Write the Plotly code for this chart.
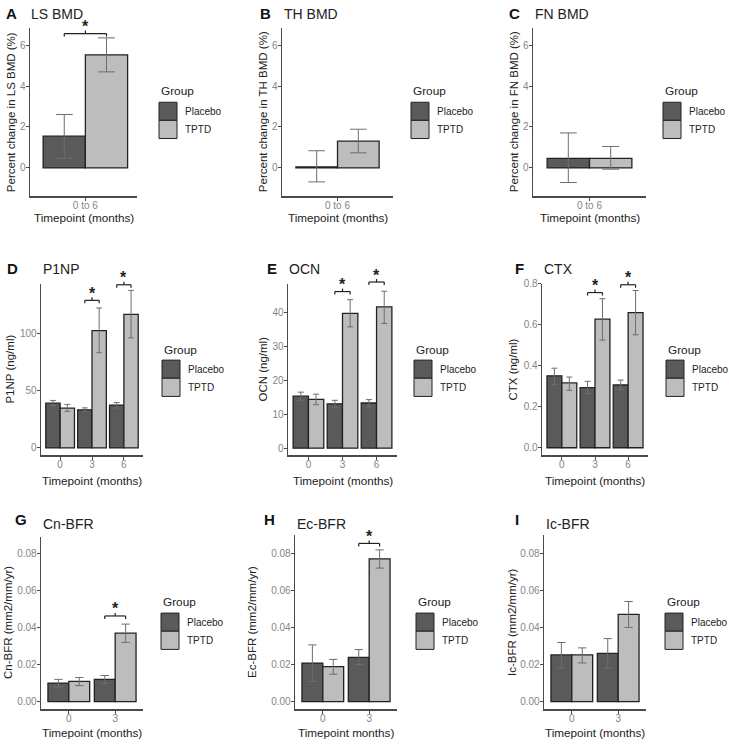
import plotly.graph_objects as go

W, H = 729, 745

# ---------------- data ----------------
groups = ["Placebo", "TPTD"]
bmd_timepoints = ["0 to 6"]
bto_timepoints = ["0", "3", "6"]
bfr_timepoints = ["0", "3"]

# A  LS BMD (% change)
ls_placebo = [1.55];  ls_placebo_lo = [0.47];  ls_placebo_hi = [2.61]
ls_tptd = [5.52];     ls_tptd_lo = [4.69];     ls_tptd_hi = [6.35]
ls_sig_idx = [0];     ls_sig_y = [6.56]
# B  TH BMD
th_placebo = [0.05];  th_placebo_lo = [-0.68]; th_placebo_hi = [0.84]
th_tptd = [1.31];     th_tptd_lo = [0.74];     th_tptd_hi = [1.89]
th_sig_idx = [];      th_sig_y = []
# C  FN BMD
fn_placebo = [0.47];  fn_placebo_lo = [-0.71]; fn_placebo_hi = [1.71]
fn_tptd = [0.47];     fn_tptd_lo = [-0.06];    fn_tptd_hi = [1.05]
fn_sig_idx = [];      fn_sig_y = []
# D  P1NP (ng/ml)
p1np_placebo = [39.1, 33.3, 37.4]; p1np_placebo_lo = [37.0, 31.9, 34.8]; p1np_placebo_hi = [41.5, 35.0, 39.7]
p1np_tptd = [34.8, 102.6, 116.8];  p1np_tptd_lo = [32.0, 83.2, 96.2];    p1np_tptd_hi = [38.0, 122.3, 137.7]
p1np_sig_idx = [1, 2];             p1np_sig_y = [129.0, 142.6]
# E  OCN (ng/ml)
ocn_placebo = [15.3, 13.05, 13.3]; ocn_placebo_lo = [14.1, 11.9, 12.2]; ocn_placebo_hi = [16.5, 14.1, 14.3]
ocn_tptd = [14.4, 39.7, 41.6];     ocn_tptd_lo = [12.8, 35.7, 36.7];    ocn_tptd_hi = [15.9, 43.7, 46.2]
ocn_sig_idx = [1, 2];              ocn_sig_y = [46.1, 48.9]
# F  CTX (ng/ml)
ctx_placebo = [0.351, 0.293, 0.306]; ctx_placebo_lo = [0.308, 0.264, 0.284]; ctx_placebo_hi = [0.388, 0.324, 0.330]
ctx_tptd = [0.316, 0.627, 0.659];    ctx_tptd_lo = [0.280, 0.525, 0.551];    ctx_tptd_hi = [0.345, 0.727, 0.767]
ctx_sig_idx = [1, 2];                ctx_sig_y = [0.757, 0.795]
# G  Cn-BFR
cn_placebo = [0.0100, 0.0120]; cn_placebo_lo = [0.0078, 0.0098]; cn_placebo_hi = [0.0120, 0.0141]
cn_tptd = [0.0109, 0.0370];    cn_tptd_lo = [0.0086, 0.0320];    cn_tptd_hi = [0.0130, 0.0419]
cn_sig_idx = [1];              cn_sig_y = [0.0463]
# H  Ec-BFR
ec_placebo = [0.0208, 0.0239]; ec_placebo_lo = [0.0109, 0.0200]; ec_placebo_hi = [0.0306, 0.0281]
ec_tptd = [0.0189, 0.0770];    ec_tptd_lo = [0.0148, 0.0720];    ec_tptd_hi = [0.0228, 0.0818]
ec_sig_idx = [1];              ec_sig_y = [0.0853]
# I  Ic-BFR
ic_placebo = [0.0252, 0.0260]; ic_placebo_lo = [0.0180, 0.0180]; ic_placebo_hi = [0.0319, 0.0340]
ic_tptd = [0.0252, 0.0471];    ic_tptd_lo = [0.0209, 0.0400];    ic_tptd_hi = [0.0290, 0.0540]
ic_sig_idx = [];               ic_sig_y = []

# ---------------- styling / layout ----------------
FONT = "Liberation Sans, Arial, sans-serif"
C_PLACEBO = "#5a5a5a"
C_TPTD = "#bdbdbd"
OUTLINE = "#222222"
ERRC = "#6e6e6e"
AXC = "#4a4a4a"
TICKC = "#858585"
TXT = "#222222"

panels = [
    dict(letter="A", title="LS BMD", ytitle="Percent change in LS BMD (%)", xtitle="Timepoint (months)",
         cats=bmd_timepoints, pl=(ls_placebo, ls_placebo_lo, ls_placebo_hi), tp=(ls_tptd, ls_tptd_lo, ls_tptd_hi),
         sig=(ls_sig_idx, ls_sig_y), box=(30, 137, 22, 192), yr=[-1.39, 6.84], xr=[-0.59, 0.55], dtick=2, fmt="",
         lx=4, ly=8, tx=29, ty=8, ytx=11, leg=(159, 86, 97), xty=213),
    dict(letter="B", title="TH BMD", ytitle="Percent change in TH BMD (%)", xtitle="Timepoint (months)",
         cats=bmd_timepoints, pl=(th_placebo, th_placebo_lo, th_placebo_hi), tp=(th_tptd, th_tptd_lo, th_tptd_hi),
         sig=(th_sig_idx, th_sig_y), box=(282, 393, 22, 192), yr=[-1.39, 6.84], dtick=2, fmt="",
         lx=258, ly=8, tx=282, ty=8, ytx=263, leg=(411, 86, 97), xty=213),
    dict(letter="C", title="FN BMD", ytitle="Percent change in FN BMD (%)", xtitle="Timepoint (months)",
         cats=bmd_timepoints, pl=(fn_placebo, fn_placebo_lo, fn_placebo_hi), tp=(fn_tptd, fn_tptd_lo, fn_tptd_hi),
         sig=(fn_sig_idx, fn_sig_y), box=(533, 646, 22, 192), yr=[-1.39, 6.84], dtick=2, fmt="",
         lx=507, ly=8, tx=533, ty=8, ytx=514, leg=(663, 86, 97), xty=213),
    dict(letter="D", title="P1NP", ytitle="P1NP (ng/ml)", xtitle="Timepoint (months)",
         cats=bto_timepoints, pl=(p1np_placebo, p1np_placebo_lo, p1np_placebo_hi), tp=(p1np_tptd, p1np_tptd_lo, p1np_tptd_hi),
         sig=(p1np_sig_idx, p1np_sig_y), box=(41, 143, 280, 453), yr=[-6.5, 143.5], dtick=50, fmt="",
         lx=5, ly=265, tx=41, ty=265, ytx=10, leg=(162, 347, 357), xty=478),
    dict(letter="E", title="OCN", ytitle="OCN (ng/ml)", xtitle="Timepoint (months)",
         cats=bto_timepoints, pl=(ocn_placebo, ocn_placebo_lo, ocn_placebo_hi), tp=(ocn_tptd, ocn_tptd_lo, ocn_tptd_hi),
         sig=(ocn_sig_idx, ocn_sig_y), box=(288, 397, 280, 453), yr=[-2.1, 48.4], dtick=10, fmt="",
         lx=265, ly=265, tx=287, ty=265, ytx=263, leg=(414, 347, 357), xty=478),
    dict(letter="F", title="CTX", ytitle="CTX (ng/ml)", xtitle="Timepoint (months)",
         cats=bto_timepoints, pl=(ctx_placebo, ctx_placebo_lo, ctx_placebo_hi), tp=(ctx_tptd, ctx_tptd_lo, ctx_tptd_hi),
         sig=(ctx_sig_idx, ctx_sig_y), box=(542, 648, 280, 453), yr=[-0.037, 0.80], dtick=0.2, fmt=".1f",
         lx=513, ly=265, tx=542, ty=265, ytx=513, leg=(666, 347, 357), xty=478),
    dict(letter="G", title="Cn-BFR", ytitle="Cn-BFR (mm2/mm/yr)", xtitle="Timepoint (months)",
         cats=bfr_timepoints, pl=(cn_placebo, cn_placebo_lo, cn_placebo_hi), tp=(cn_tptd, cn_tptd_lo, cn_tptd_hi),
         sig=(cn_sig_idx, cn_sig_y), box=(41, 143, 535, 709), yr=[-0.0042, 0.0892], dtick=0.02, fmt=".2f",
         lx=13, ly=518, tx=41, ty=522, ytx=8, leg=(161, 601, 612), xty=732),
    dict(letter="H", title="Ec-BFR", ytitle="Ec-BFR (mm2/mm/yr)", xtitle="Timepoint months)",
         cats=bfr_timepoints, pl=(ec_placebo, ec_placebo_lo, ec_placebo_hi), tp=(ec_tptd, ec_tptd_lo, ec_tptd_hi),
         sig=(ec_sig_idx, ec_sig_y), box=(295, 397, 533, 709), yr=[-0.0041, 0.0900], dtick=0.02, fmt=".2f",
         lx=262, ly=518, tx=295, ty=522, ytx=252, leg=(416, 601, 612), xty=732),
    dict(letter="I", title="Ic-BFR", ytitle="Ic-BFR (mm2/mm/yr)", xtitle="Timepoint (months)",
         cats=bfr_timepoints, pl=(ic_placebo, ic_placebo_lo, ic_placebo_hi), tp=(ic_tptd, ic_tptd_lo, ic_tptd_hi),
         sig=(ic_sig_idx, ic_sig_y), box=(544, 646, 533, 709), yr=[-0.0041, 0.0900], dtick=0.02, fmt=".2f",
         lx=513, ly=518, tx=544, ty=522, ytx=512, leg=(665, 601, 612), xty=732),
]

BAR_W = 0.45
fig = go.Figure()
layout = dict(width=W, height=H, margin=dict(l=0, r=0, t=0, b=0),
              paper_bgcolor="white", plot_bgcolor="white", showlegend=False,
              barmode="overlay", font=dict(family=FONT, color=TXT))
shapes, annos = [], []


def px_x(px):
    return px / W


def px_y(py):
    return 1 - py / H


for i, p in enumerate(panels):
    n = i + 1
    xa = "x" if n == 1 else f"x{n}"
    ya = "y" if n == 1 else f"y{n}"
    xk = "xaxis" if n == 1 else f"xaxis{n}"
    yk = "yaxis" if n == 1 else f"yaxis{n}"
    x0, x1, y0, y1 = p["box"]
    cats = p["cats"]
    pos = list(range(len(cats)))
    xr = p.get("xr", [-0.6, len(cats) - 0.4])
    px_per_unit_x = (x1 - x0) / (xr[1] - xr[0])
    capw = 0.2 * BAR_W * px_per_unit_x

    for name, (vals, lo, hi), color, off in [("Placebo", p["pl"], C_PLACEBO, -BAR_W),
                                              ("TPTD", p["tp"], C_TPTD, 0.0)]:
        fig.add_trace(go.Bar(
            x=pos, y=vals, width=BAR_W, offset=off, name=name,
            marker=dict(color=color, line=dict(color=OUTLINE, width=1.3)),
            error_y=dict(type="data", symmetric=False,
                         array=[h - v for v, h in zip(vals, hi)],
                         arrayminus=[v - l for v, l in zip(vals, lo)],
                         color=ERRC, thickness=1, width=capw),
            xaxis=xa, yaxis=ya, showlegend=False, hoverinfo="skip"))

    layout[xk] = dict(domain=[px_x(x0), px_x(x1)], anchor=ya, range=xr, tickmode="array",
                      tickvals=pos, ticktext=cats, showline=True, linecolor=AXC, linewidth=1.4,
                      ticks="outside", ticklen=3, tickcolor=AXC, tickwidth=1, ticklabelstandoff=-4,
                      tickfont=dict(size=10, color=TICKC, family=FONT),
                      showgrid=False, zeroline=False, fixedrange=True)
    layout[yk] = dict(domain=[px_y(y1), px_y(y0)], anchor=xa, range=p["yr"], tick0=0, dtick=p["dtick"],
                      tickformat=p["fmt"], showline=True, linecolor=AXC, linewidth=1.4,
                      ticks="outside", ticklen=3, tickcolor=AXC, tickwidth=1, ticklabelstandoff=-2,
                      tickfont=dict(size=10, color=TICKC, family=FONT),
                      showgrid=False, zeroline=False, fixedrange=True)

    # significance brackets (domain-fraction y so they are not clipped at top)
    r0, r1 = p["yr"]
    hpx = y1 - y0
    tick = 3.0 / hpx

    def yf(v):
        return (v - r0) / (r1 - r0)

    for k, yv in zip(*p["sig"]):
        a, b = k - BAR_W / 2, k + BAR_W / 2
        fy = yf(yv)
        yref = f"{ya} domain"
        for (xs, ys, xe, ye) in [(a, fy, b, fy), (a, fy, a, fy - tick), (b, fy, b, fy - tick), (k, fy, k, fy + tick)]:
            shapes.append(dict(type="line", xref=xa, yref=yref, x0=xs, y0=ys, x1=xe, y1=ye,
                               line=dict(color=OUTLINE, width=1.2)))
        annos.append(dict(x=k, y=fy + tick, xref=xa, yref=yref, text="<b>*</b>", showarrow=False,
                          xanchor="center", yanchor="middle", yshift=4,
                          font=dict(size=16, color=TXT, family=FONT)))

    # panel letter and title
    annos.append(dict(x=px_x(p["lx"]), y=px_y(p["ly"]), xref="paper", yref="paper", text=f"<b>{p['letter']}</b>",
                      showarrow=False, xanchor="left", yanchor="middle", font=dict(size=15, color="#111", family=FONT)))
    annos.append(dict(x=px_x(p["tx"]), y=px_y(p["ty"]), xref="paper", yref="paper", text=p["title"],
                      showarrow=False, xanchor="left", yanchor="middle", font=dict(size=14, color=TXT, family=FONT)))
    # axis titles
    annos.append(dict(x=px_x(p["ytx"]), y=px_y((y0 + y1) / 2), xref="paper", yref="paper", text=p["ytitle"],
                      textangle=-90, showarrow=False, xanchor="center", yanchor="middle",
                      font=dict(size=11.5, color=TXT, family=FONT)))
    annos.append(dict(x=px_x((x0 + x1) / 2), y=px_y(p["xty"]), xref="paper", yref="paper", text=p["xtitle"],
                      showarrow=False, xanchor="center", yanchor="middle",
                      font=dict(size=11.7, color=TXT, family=FONT)))

    # legend (drawn manually, ggplot style)
    gx, gty, gby = p["leg"]
    annos.append(dict(x=px_x(gx), y=px_y(gty), xref="paper", yref="paper", text="Group",
                      showarrow=False, xanchor="left", yanchor="middle", font=dict(size=11.8, color=TXT, family=FONT)))
    kh = 18.3
    for j, (g, col) in enumerate(zip(groups, [C_PLACEBO, C_TPTD])):
        top = gby + j * kh
        shapes.append(dict(type="rect", xref="paper", yref="paper", x0=px_x(gx), x1=px_x(gx + 18),
                           y0=px_y(top + kh), y1=px_y(top), fillcolor=col, line=dict(color=OUTLINE, width=1)))
        annos.append(dict(x=px_x(gx + 24), y=px_y(top + kh / 2), xref="paper", yref="paper", text=g,
                          showarrow=False, xanchor="left", yanchor="middle",
                          font=dict(size=10, color=TXT, family=FONT)))

layout["shapes"] = shapes
layout["annotations"] = annos
fig.update_layout(**layout)
fig.write_html("out.html", config={"displayModeBar": False, "staticPlot": True},
               post_script="document.body.style.margin='0';document.body.style.overflow='hidden';")
